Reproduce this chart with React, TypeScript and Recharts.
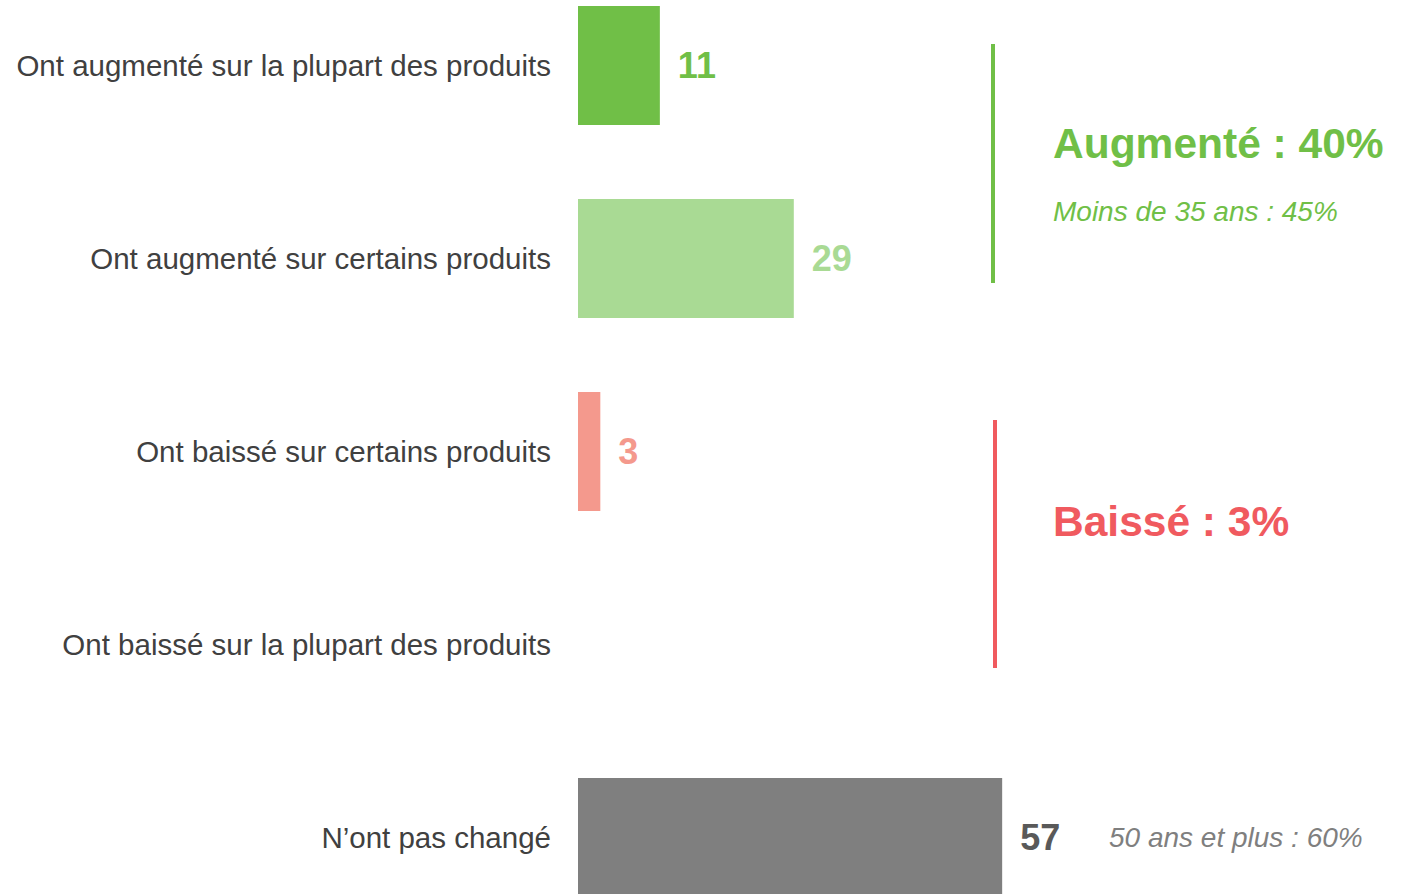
import { BarChart, Bar, XAxis, YAxis, Cell, LabelList } from 'recharts'

const categories = [
  'Ont augmenté sur la plupart des produits',
  'Ont augmenté sur certains produits',
  'Ont baissé sur certains produits',
  'Ont baissé sur la plupart des produits',
  'N\u2019ont pas changé',
]
const values = [11, 29, 3, 0, 57]
const barColors = ['#70BF47', '#A9DA94', '#F4998D', '#F4998D', '#7F7F7F']
const labelColors = ['#70BF47', '#A9DA94', '#F4998D', '#F4998D', '#595959']

const groupTitles = ['Augmenté : 40%', 'Baissé : 3%']
const groupNotes = ['Moins de 35 ans : 45%', '']
const groupColors = ['#70BF47', '#F05A5F']
const sideNote = '50 ans et plus : 60%'

const data = categories.map((name, i) => ({ name, value: values[i] }))

const FONT = '"Liberation Sans", Arial, sans-serif'

function ValueLabel(props: any) {
  const { x, y, width, height, value } = props
  if (!value) return null
  const i = values.indexOf(Number(value))
  return (
    <text
      x={x + width + 18}
      y={y + height / 2}
      dy="0.36em"
      fill={labelColors[i]}
      fontSize={36}
      fontWeight="bold"
      fontFamily={FONT}
    >
      {value}
    </text>
  )
}

export default function App() {
  return (
    <div style={{ position: 'absolute', left: 0, top: 0, width: 1404, height: 894, overflow: 'hidden', background: '#fff' }}>
      <div style={{ position: 'absolute', left: 0, top: -31 }}>
        <BarChart
          width={1404}
          height={965}
          data={data}
          layout="vertical"
          margin={{ top: 0, right: 0, bottom: 0, left: 0 }}
        >
          <XAxis type="number" domain={[0, 111]} hide />
          <YAxis
            type="category"
            dataKey="name"
            width={578}
            axisLine={false}
            tickLine={false}
            tickSize={0}
            tickMargin={27}
            tick={{ fill: '#404040', fontSize: 29.5, fontFamily: FONT }}
          />
          <Bar dataKey="value" barSize={119} isAnimationActive={false}>
            {data.map((_, i) => (
              <Cell key={i} fill={barColors[i]} />
            ))}
            <LabelList dataKey="value" content={<ValueLabel />} />
          </Bar>
        </BarChart>
      </div>
      <svg width={1404} height={894} style={{ position: 'absolute', left: 0, top: 0, fontFamily: FONT }}>
        <line x1={993} x2={993} y1={44} y2={283} stroke={groupColors[0]} strokeWidth={4} />
        <text x={1053} y={158} fill={groupColors[0]} fontSize={42.5} fontWeight="bold">
          {groupTitles[0]}
        </text>
        <text x={1053} y={221} fill={groupColors[0]} fontSize={28} fontStyle="italic">
          {groupNotes[0]}
        </text>
        <line x1={995} x2={995} y1={420} y2={668} stroke={groupColors[1]} strokeWidth={4} />
        <text x={1053} y={536} fill={groupColors[1]} fontSize={42.5} fontWeight="bold">
          {groupTitles[1]}
        </text>
        <text x={1109} y={847} fill="#7F7F7F" fontSize={28} fontStyle="italic">
          {sideNote}
        </text>
      </svg>
    </div>
  )
}
